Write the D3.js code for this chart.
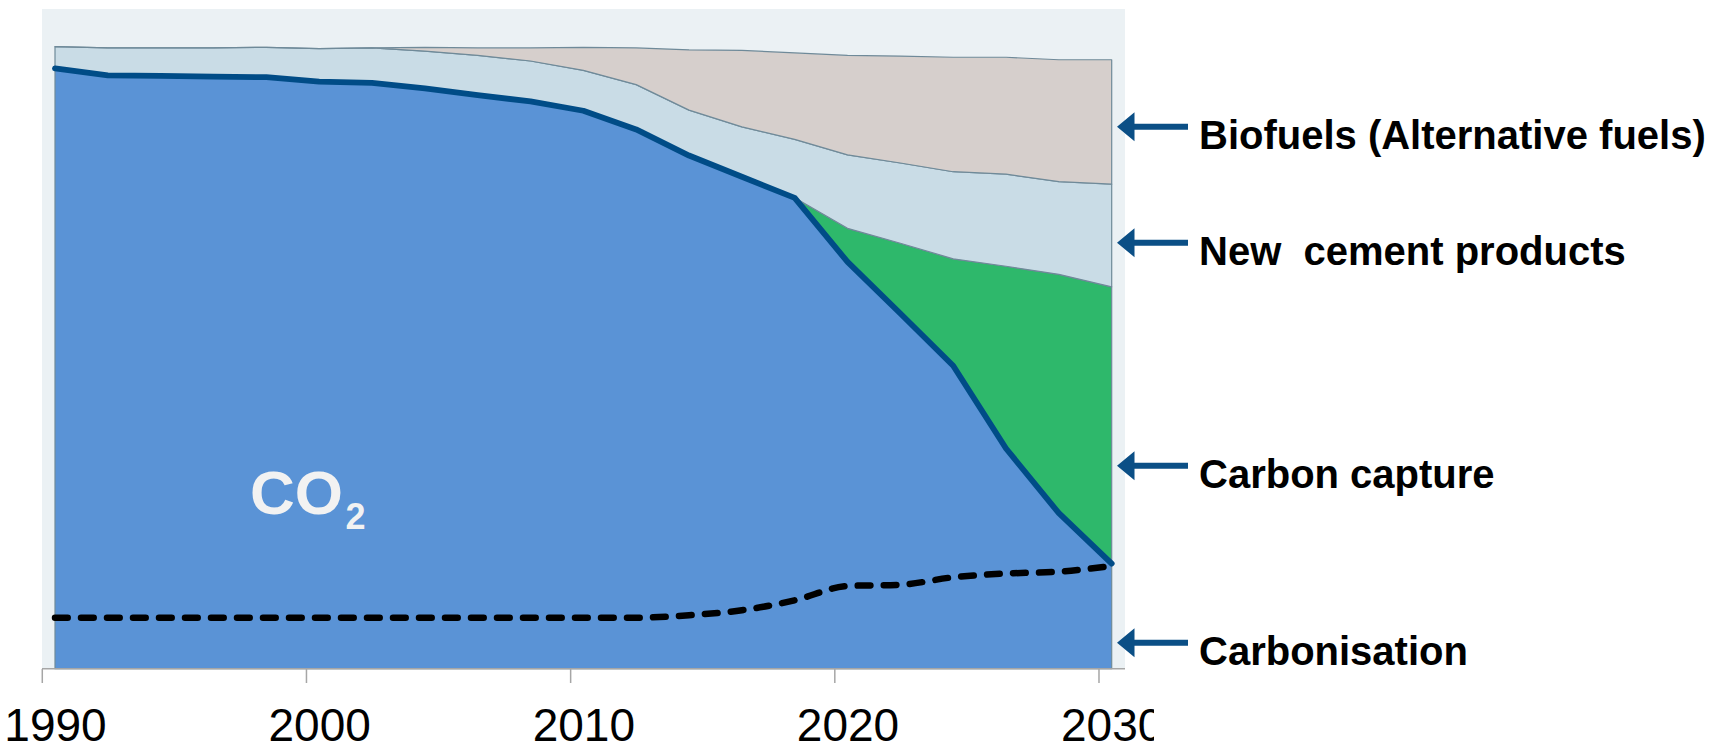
<!DOCTYPE html>
<html>
<head>
<meta charset="utf-8">
<script src="https://cdn.jsdelivr.net/npm/d3@7"></script>
<style>
  html, body { margin: 0; padding: 0; background: #ffffff; }
  svg { display: block; }
</style>
</head>
<body>
<svg id="chart" width="1710" height="751"></svg>
<script>
// Cement sector CO2 roadmap, index 1990 = 100, stacked by abatement lever
const years = [1990, 1992, 1994, 1996, 1998, 2000, 2002, 2004, 2006, 2008, 2010,
               2012, 2014, 2016, 2018, 2020, 2022, 2024, 2026, 2028, 2030];
const co2 = [96.5, 95.4, 95.3, 95.2, 95.1, 94.4, 94.2, 93.3, 92.2, 91.2, 89.7,
             86.7, 82.5, 79.1, 75.7, 65.4, 57.1, 48.7, 35.4, 25.0, 16.9];
const carbonCapture = [0, 0, 0, 0, 0, 0, 0, 0, 0, 0, 0,
                       0, 0, 0, 0, 5.4, 11.3, 17.2, 29.3, 38.4, 44.5];
const newCementProducts = [3.5, 4.4, 4.5, 4.6, 4.8, 5.3, 5.6, 6.0, 6.4, 6.5, 6.5,
                           7.2, 7.3, 8.0, 9.4, 11.8, 12.9, 14.0, 14.8, 14.9, 16.5];
const biofuels = [0, 0, 0, 0, 0, 0, 0, 0.6, 1.2, 2.1, 3.7,
                  5.9, 9.7, 12.3, 13.9, 16.0, 17.2, 18.4, 18.8, 19.6, 20.0];
const carbonisation = [8.2, 8.2, 8.2, 8.2, 8.2, 8.2, 8.2, 8.2, 8.2, 8.2, 8.2,
                       8.2, 8.6, 9.4, 11.0, 13.3, 13.5, 14.7, 15.3, 15.6, 16.5];
const tickYears = [1990, 2000, 2010, 2020, 2030];
const leverLabels = ["Biofuels (Alternative fuels)", "New  cement products", "Carbon capture", "Carbonisation"];

// Layout
const labelArrowY = [126.7, 242.7, 465.7, 642.7];
const panel = { x: 42, y: 9, w: 1083, h: 659.7 };
const FONT = "'Liberation Sans', Arial, Helvetica, sans-serif";

const svg = d3.select("#chart");

const x = d3.scaleLinear().domain([1990, 2030]).range([55, 1111.7]);
const y = d3.scaleLinear().domain([0, 100]).range([668.7, 46.7]);
const halfStep = (x(1991) - x(1990)) / 2;

// Background panel
svg.append("rect")
  .attr("x", panel.x).attr("y", panel.y)
  .attr("width", panel.w).attr("height", panel.h)
  .attr("fill", "#EBF1F4");

// Stacked layers
const rows = years.map((yr, i) => ({
  year: yr,
  co2: co2[i],
  capture: carbonCapture[i],
  cement: newCementProducts[i],
  bio: biofuels[i]
}));
const keys = ["co2", "capture", "cement", "bio"];
const fills = { co2: "#5A93D6", capture: "#2EB86B", cement: "#C9DCE6", bio: "#D6CFCC" };
const series = d3.stack().keys(keys)(rows);

const area = d3.area()
  .x(d => x(d.data.year))
  .y0(d => y(d[0]))
  .y1(d => y(d[1]));

svg.append("g").selectAll("path")
  .data(series)
  .join("path")
  .attr("d", area)
  .attr("fill", s => fills[s.key])
  .attr("stroke", "#6F8A99")
  .attr("stroke-width", 1.2)
  .attr("stroke-linejoin", "round");

// Remaining CO2 emissions line
const co2Line = d3.line()
  .x((d, i) => x(years[i]))
  .y(d => y(d));
svg.append("path")
  .attr("d", co2Line(co2))
  .attr("fill", "none")
  .attr("stroke", "#004C87")
  .attr("stroke-width", 5.8)
  .attr("stroke-linejoin", "round")
  .attr("stroke-linecap", "round");

// Carbonisation (recarbonation uptake) dashed line
const dashLine = d3.line()
  .x((d, i) => x(years[i]))
  .y(d => y(d))
  .curve(d3.curveMonotoneX);
svg.append("path")
  .attr("d", dashLine(carbonisation))
  .attr("fill", "none")
  .attr("stroke", "#000000")
  .attr("stroke-width", 6.5)
  .attr("stroke-dasharray", "12.7 13.3")
  .attr("stroke-linecap", "round");

// X axis
svg.append("defs").append("clipPath").attr("id", "axisClip")
  .append("rect").attr("x", 0).attr("y", 0).attr("width", 1154).attr("height", 751);

const axisG = svg.append("g")
  .attr("transform", `translate(0,${y(0)})`)
  .attr("clip-path", "url(#axisClip)")
  .call(d3.axisBottom(x).tickValues(tickYears).tickFormat(d3.format("d")).tickSize(14.3));
axisG.select(".domain").remove();
axisG.selectAll(".tick line")
  .attr("x1", -halfStep).attr("x2", -halfStep)
  .attr("stroke", "#A6A6A6").attr("stroke-width", 1.5);
axisG.selectAll(".tick text")
  .attr("y", 72.5).attr("dy", 0)
  .attr("fill", "#000000")
  .style("font-family", FONT)
  .style("font-size", "46px");

svg.append("line")
  .attr("x1", panel.x).attr("x2", panel.x + panel.w)
  .attr("y1", y(0)).attr("y2", y(0))
  .attr("stroke", "#A6A6A6").attr("stroke-width", 1.5);

// Lever labels with arrows
const arrowPath = (tx, ty) => {
  const headLen = 17.5, headHalf = 14.5, shaftHalf = 3, tail = 71;
  return `M${tx},${ty} L${tx + headLen},${ty - headHalf} L${tx + headLen},${ty - shaftHalf}` +
         ` L${tx + tail},${ty - shaftHalf} L${tx + tail},${ty + shaftHalf}` +
         ` L${tx + headLen},${ty + shaftHalf} L${tx + headLen},${ty + headHalf} Z`;
};
const labelG = svg.append("g");
labelG.selectAll("path")
  .data(leverLabels)
  .join("path")
  .attr("d", (d, i) => arrowPath(1117, labelArrowY[i]))
  .attr("fill", "#0B4F86");
labelG.selectAll("text")
  .data(leverLabels)
  .join("text")
  .attr("x", 1199)
  .attr("y", (d, i) => labelArrowY[i] + 22)
  .attr("fill", "#000000")
  .style("font-family", FONT)
  .style("font-weight", "bold")
  .style("font-size", "40px")
  .style("white-space", "pre")
  .text(d => d);

// CO2 label
const co2Text = svg.append("text")
  .attr("x", 250).attr("y", 514)
  .attr("fill", "#F2F2F2")
  .style("font-family", FONT)
  .style("font-weight", "bold")
  .style("font-size", "62px");
co2Text.append("tspan").text("CO");
co2Text.append("tspan").attr("dx", 2.5).attr("dy", 15.3).style("font-size", "36px").text("2");
</script>
</body>
</html>
